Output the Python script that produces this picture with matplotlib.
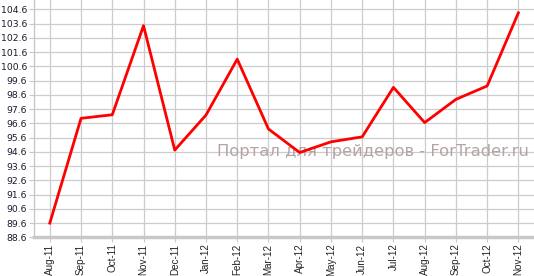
import matplotlib.pyplot as plt
import numpy as np

# monthly values
months = ["Aug-11", "Sep-11", "Oct-11", "Nov-11", "Dec-11", "Jan-12", "Feb-12", "Mar-12",
          "Apr-12", "May-12", "Jun-12", "Jul-12", "Aug-12", "Sep-12", "Oct-12", "Nov-12"]
values = [89.6, 96.95, 97.2, 103.45, 94.72, 97.18, 101.1, 96.2,
          94.55, 95.3, 95.65, 99.12, 96.65, 98.28, 99.22, 104.35]
yticks = [88.6 + i for i in range(17)]

fig = plt.figure(figsize=(5.34, 2.76), dpi=100)
ax = fig.add_axes([0.064, 0.14, 0.936, 0.86])

x = np.arange(len(months))
ax.plot(x, values, color="#ff0000", lw=2, zorder=3)

ax.set_xlim(-0.5, len(months) - 0.5)
ax.set_ylim(88.6, 105.25)
ax.set_xticks(x)
ax.set_xticklabels(months, rotation=90, fontsize=7.1, color="#222222", family="Liberation Sans")
ax.set_yticks(yticks)
ax.set_yticklabels(["%.1f" % v for v in yticks], fontsize=6.7, color="#1a1a2e")
ax.grid(True, color="#cccccc", lw=0.9)
ax.set_axisbelow(True)

for s in ["top", "right"]:
    ax.spines[s].set_visible(False)
ax.spines["bottom"].set_color("#c8c8c8")
ax.spines["bottom"].set_linewidth(2.5)
ax.spines["left"].set_color("#c8c8c8")
ax.spines["left"].set_linewidth(1)
ax.tick_params(axis="y", length=3.5, color="#c8c8c8", pad=1.5)
ax.tick_params(axis="x", length=3.5, color="#c8c8c8", pad=1)

ax.text(0.99, 0.36, "Портал для трейдеров - ForTrader.ru", transform=ax.transAxes,
        ha="right", va="center", fontsize=11.8, color="#b4a4a4", zorder=2)

fig.savefig("out.png", dpi=100)
